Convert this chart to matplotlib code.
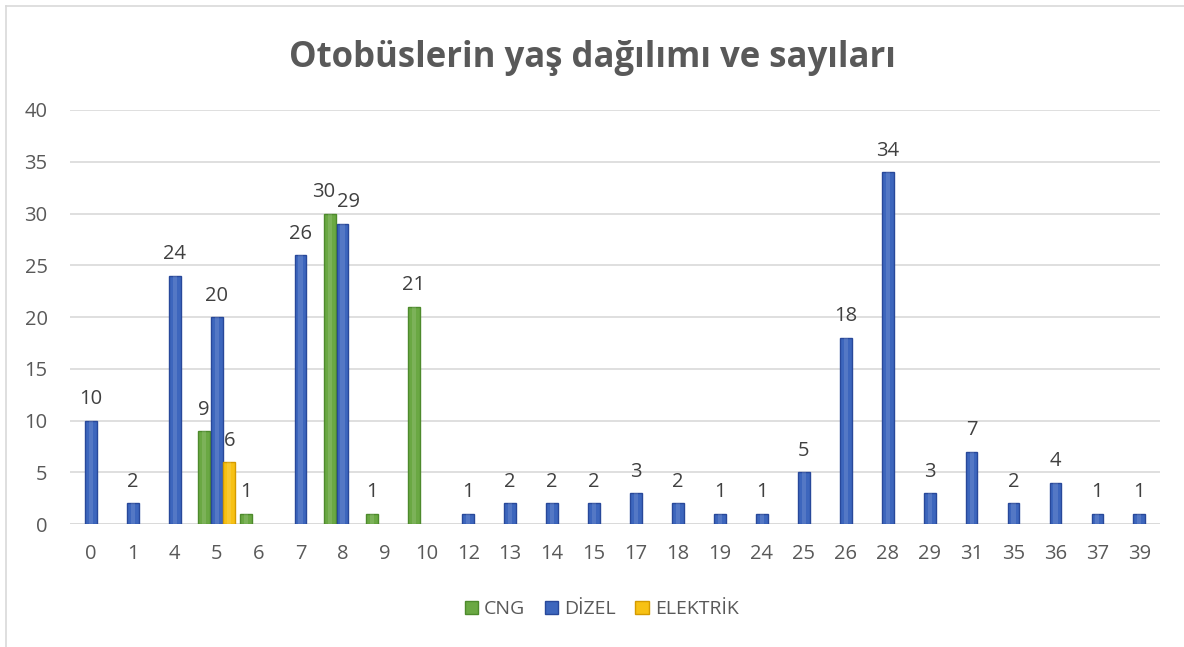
import numpy as np
import matplotlib.pyplot as plt
from matplotlib.lines import Line2D
from matplotlib.patches import Patch

plt.rcParams['font.family'] = ['Open Sans', 'DejaVu Sans']

# otobüs yaşları (kategori) ve seri değerleri
yaslar = ['0', '1', '4', '5', '6', '7', '8', '9', '10', '12', '13', '14', '15',
          '17', '18', '19', '24', '25', '26', '28', '29', '31', '35', '36', '37', '39']
cng = [0, 0, 0, 9, 1, 0, 30, 1, 21, 0, 0, 0, 0,
       0, 0, 0, 0, 0, 0, 0, 0, 0, 0, 0, 0, 0]
dizel = [10, 2, 24, 20, 0, 26, 29, 0, 0, 1, 2, 2, 2,
         3, 2, 1, 1, 5, 18, 34, 3, 7, 2, 4, 1, 1]
elektrik = [0, 0, 0, 6, 0, 0, 0, 0, 0, 0, 0, 0, 0,
            0, 0, 0, 0, 0, 0, 0, 0, 0, 0, 0, 0, 0]

seriler = [('CNG', cng, '#6aa843', '#4d8a2c', -0.3),
           ('DİZEL', dizel, '#3d66bd', '#28489a', 0.0),
           ('ELEKTRİK', elektrik, '#f7c114', '#d49a00', 0.3)]

fig = plt.figure(figsize=(11.84, 6.47), dpi=100)
ax = fig.add_axes([0.059, 0.19, 0.921, 0.64])

x = np.arange(len(yaslar))
w = 0.28
for ad, vals, renk, kenar, off in seriler:
    vals = np.array(vals)
    m = vals > 0
    ax.bar(x[m] + off, vals[m], width=w, color=renk, edgecolor=kenar,
           linewidth=1.0, zorder=3)
    # ortadaki açık şerit (parlama)
    ax.bar(x[m] + off, vals[m], width=w * 0.35, color='white', alpha=0.12,
           linewidth=0, zorder=4)
    for i, v in zip(x[m], vals[m]):
        xi = i + off
        # yan yana duran 30 ve 29 etiketleri biraz ayrılıyor
        if yaslar[i] == '8':
            xi += -0.15 if ad == 'CNG' else 0.15
        ax.text(xi, v + 1.1, str(v), ha='center', va='bottom',
                fontsize=14.5, color='#404040', zorder=5)

ax.set_ylim(0, 40)
ax.set_xlim(-0.5, len(yaslar) - 0.5)
ax.set_yticks(range(0, 41, 5))
ax.set_xticks(x)
ax.set_xticklabels(yaslar)
ax.yaxis.grid(True, color='#d9d9d9', linewidth=1.2)
ax.set_axisbelow(True)
for s in ax.spines.values():
    s.set_visible(False)
ax.axhline(0, color='#d9d9d9', linewidth=1.2, zorder=2)
ax.tick_params(axis='both', length=0, labelsize=14.5, colors='#595959')
ax.tick_params(axis='y', pad=16)
ax.tick_params(axis='x', pad=14)

fig.text(0.5, 0.91, 'Otobüslerin yaş dağılımı ve sayıları', ha='center',
         va='center', fontsize=25, fontweight='bold', color='#595959')

handles = [Patch(facecolor=r, edgecolor=k) for _, _, r, k, _ in seriler]
fig.legend(handles, [s[0] for s in seriler], loc='center',
           bbox_to_anchor=(0.508, 0.058), ncol=3, frameon=False, fontsize=14,
           handlelength=0.7, handleheight=0.7, handletextpad=0.3,
           columnspacing=1.0, labelcolor='#595959')

# grafik alanı çerçevesi
fig.add_artist(Line2D([6 / 1184, 1], [1 - 6 / 647, 1 - 6 / 647],
                      transform=fig.transFigure, color='#d9d9d9', lw=1.2))
fig.add_artist(Line2D([6 / 1184, 6 / 1184], [0, 1 - 6 / 647],
                      transform=fig.transFigure, color='#d9d9d9', lw=1.2))

fig.savefig('out.png', dpi=100)
